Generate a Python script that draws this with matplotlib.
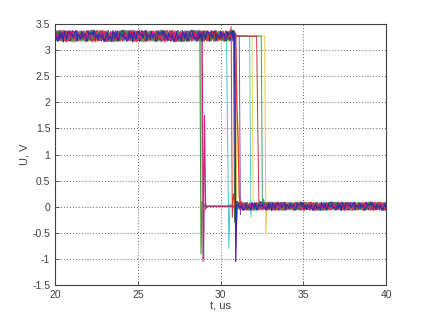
import numpy as np
import matplotlib
matplotlib.use("Agg")
import matplotlib.pyplot as plt

plt.rcParams['font.family'] = ['Liberation Sans', 'DejaVu Sans']

# time axis, us
t_start, t_stop, dt = 20.0, 40.0, 0.07
noise_edge = 30.9          # noise sits on the high level before, on the low level after

high_level = 3.27
low_level = 0.0

# one entry per trace, in drawing order
switch_times = [28.86, 31.97, 32.72, 30.92, 31.81, 30.42, 32.51, 31.20,
                32.23, 30.98, 30.80, 30.88, 30.70, 28.81, 28.90, 30.90]
mid_values = [1.0, np.nan, np.nan, 2.2, np.nan, 1.2, np.nan, np.nan,
              1.5, 1.9, np.nan, np.nan, np.nan, np.nan, np.nan, np.nan]
undershoots = [-1.05, 0.15, -0.50, -0.25, -0.20, -0.80, 0.05, -0.15,
               0.10, 1.30, -0.30, -1.05, -0.20, -0.90, -1.00, -0.35]
rebounds = [0.05, 0.10, 0.05, 0.10, 0.05, 0.05, 0.15, 0.10,
            0.10, 0.20, 0.10, 0.10, 0.25, 0.10, 1.75, 0.05]
preshoots = [3.22, 3.27, 3.27, 3.28, 3.27, 3.30, 3.27, 3.27,
             3.27, 3.30, 3.35, 3.30, 3.45, 3.25, 3.28, 3.30]
trace_colors = ['#b8b0b8', '#e8d848', '#e8c840', '#c8d040', '#60c8d0', '#40c8d0',
                '#40a060', '#9040c0', '#d03040', '#e04040', '#308030', '#5020a0',
                '#e03030', '#3a9a3a', '#d0207a', '#2030b0']
trace_widths = [1.3, 0.7, 0.7, 0.7, 0.7, 0.7, 0.7, 0.7,
                0.7, 1.0, 0.7, 0.9, 0.7, 0.8, 0.8, 0.7]
noise_strides = [7, 11, 13, 17, 19, 23, 29, 31, 37, 41, 43, 47, 53, 49, 59, 31]

# hand-typed noise table, unit amplitude
noise = [0.3, -0.6, 0.8, -0.2, -0.9, 0.5, 0.1, -0.4, 0.9, -0.7,
         0.2, 0.6, -0.8, -0.1, 0.7, -0.5, 0.4, -0.9, 0.0, 0.8,
         -0.3, 0.5, -0.7, 0.9, -0.2, -0.6, 0.3, 0.7, -0.8, 0.1,
         0.6, -0.4, -0.1, 0.9, -0.9, 0.2, 0.5, -0.5, 0.8, -0.3,
         -0.7, 0.4, 0.0, -0.8, 0.6, 0.3, -0.2, 0.7, -0.6, 1.0,
         -0.4, 0.2, -1.0, 0.5, 0.1, -0.3, 0.8, -0.5, 0.4, -0.1]
high_noise = 0.11
low_noise = 0.08
quiet_noise = 0.008

t = np.arange(t_start, t_stop + dt / 2, dt)

fig = plt.figure(figsize=(4.27, 3.2), dpi=100)
ax = fig.add_axes([0.129, 0.109, 0.775, 0.816])

for i, ts in enumerate(switch_times):
    n = np.arange(len(t))
    nz = np.array([noise[(k * noise_strides[i] + i * 13) % len(noise)] for k in n])
    high = t < ts
    noisy = t < noise_edge
    y = np.where(high,
                 high_level + nz * np.where(noisy, high_noise, quiet_noise),
                 low_level + 0.01 + nz * np.where(noisy, quiet_noise, low_noise))
    k = int(np.searchsorted(t, ts))
    y[k - 1] = preshoots[i]
    j = k
    if not np.isnan(mid_values[i]):
        y[j] = mid_values[i]
        j += 1
    y[j] = undershoots[i]
    y[j + 1] = rebounds[i]
    y[j + 2] = low_level + 0.05 * (1 if rebounds[i] < 0.5 else -1)
    ax.plot(t, y, color=trace_colors[i], lw=trace_widths[i])

ax.set_xlim(20, 40)
ax.set_ylim(-1.5, 3.5)
ax.set_xticks([20, 25, 30, 35, 40])
ax.set_yticks(np.arange(-1.5, 3.51, 0.5))
ax.set_yticklabels(['-1.5', '-1', '-0.5', '0', '0.5', '1', '1.5', '2', '2.5', '3', '3.5'])
ax.grid(True, linestyle=(0, (1, 2.5)), color='#303030', lw=0.6)
ax.tick_params(direction='in', length=3, labelsize=7.5, colors='#404040', width=0.6)
for s in ax.spines.values():
    s.set_color('#404040')
    s.set_linewidth(0.8)
ax.set_xlabel('t, us', fontsize=8, color='#404040', labelpad=1)
ax.set_ylabel('U, V', fontsize=8, color='#404040', labelpad=2)

fig.savefig('out.png', dpi=100, facecolor='white')
